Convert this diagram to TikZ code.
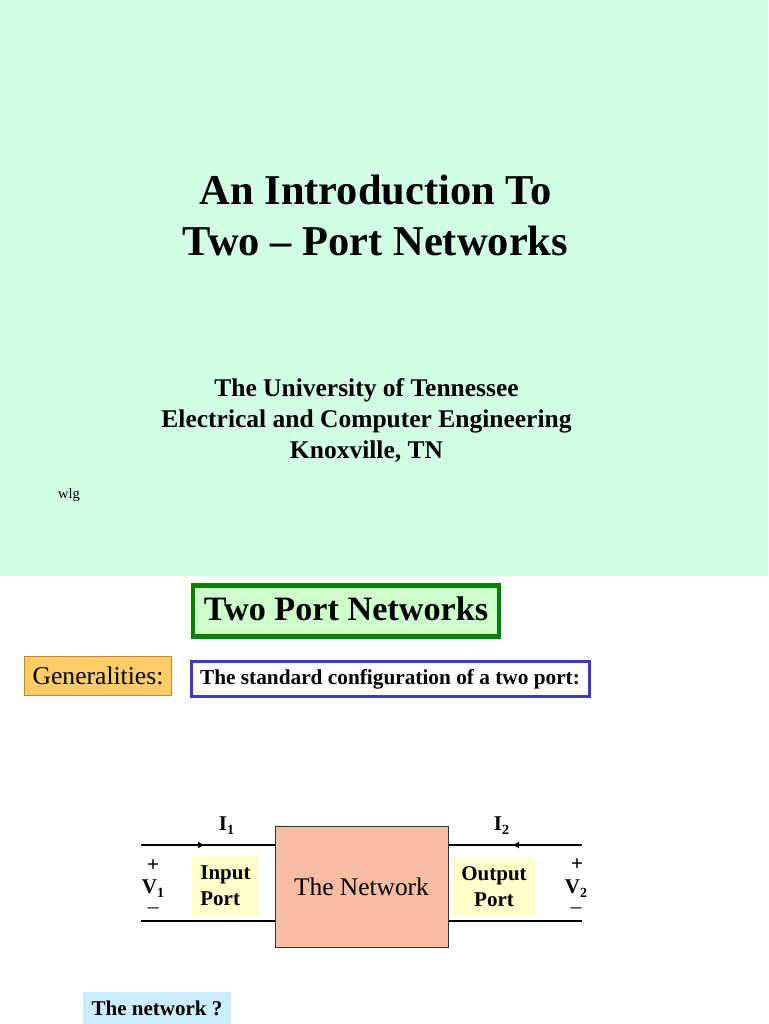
\documentclass[tikz,border=0pt]{standalone}
\usepackage{fontspec}
\setmainfont{Liberation Serif}
\usetikzlibrary{arrows.meta}
\definecolor{mintbg}{HTML}{D2FEE6}
\definecolor{titlefill}{HTML}{CCFFCC}
\definecolor{titleline}{HTML}{058005}
\definecolor{genfill}{HTML}{FFCC66}
\definecolor{genline}{HTML}{B98A40}
\definecolor{blueline}{HTML}{3B3BB8}
\definecolor{netfill}{HTML}{F6BDA3}
\definecolor{portfill}{HTML}{FFFFCC}
\definecolor{askfill}{HTML}{CCECFF}
\newcommand{\lowsub}[1]{\raisebox{-4pt}{\fontsize{14}{14}\selectfont #1}}
\tikzset{
  txt/.style={inner sep=0pt,align=center,text=black},
  bigt/.style={txt,font=\fontsize{42.5}{51}\selectfont\bfseries},
  subt/.style={txt,font=\fontsize{25.5}{31}\selectfont\bfseries},
  lab/.style={txt,font=\fontsize{21}{25}\selectfont\bfseries},
  wire/.style={line width=2pt,draw=black,line cap=butt},
  cur/.style={wire,-{Latex[length=7pt,width=7pt]}},
  portbox/.style={fill=portfill,inner sep=0pt,lab,minimum height=60pt},
}
\begin{document}
\begin{tikzpicture}[x=1pt,y=-1pt]
\useasboundingbox (0,0) rectangle (768,1024);
\fill[white] (0,0) rectangle (768,1024);
\fill[mintbg] (0,0) rectangle (768,576);
\node[bigt] (title) at (375.5,215.5) {An Introduction To\\Two -- Port Networks};
\node[subt] (uni) at (366.5,420.5) {The University of Tennessee\\Electrical and Computer Engineering\\Knoxville, TN};
\node[txt,font=\fontsize{14.5}{16}\selectfont] (wlg) at (69,495.5) {wlg};
\node[draw=titleline,line width=4.5pt,fill=titlefill,minimum width=306pt,minimum height=51pt,inner sep=0pt,font=\fontsize{34.2}{38}\selectfont\bfseries] (head) at (346,611) {\raisebox{-9.5pt}[0pt][0pt]{Two Port Networks}};
\node[draw=genline,line width=.9pt,fill=genfill,minimum width=147pt,minimum height=39pt,inner sep=0pt,font=\fontsize{25.6}{29}\selectfont] (gen) at (98,676) {Generalities:};
\node[draw=blueline,line width=3pt,fill=white,minimum width=398pt,minimum height=35pt,inner sep=0pt,font=\fontsize{21.3}{25}\selectfont\bfseries] (std) at (390,678.5) {\raisebox{-6pt}[0pt][0pt]{The standard configuration of a two port:}};
\node[draw=black!80,line width=1pt,fill=netfill,minimum width=173pt,minimum height=121pt,inner sep=0pt,font=\fontsize{25.4}{29}\selectfont] (net) at (361.5,886.5) {The Network};
\coordinate (ta) at (141,845);
\coordinate (tm) at (205,845);
\coordinate (ba) at (141,921);
\coordinate (tb) at (582,845);
\coordinate (tn) at (512,845);
\coordinate (bb) at (582,921);
\draw[wire] (ta) -- (net.west |- ta);
\draw[cur] (ta) -- (tm);
\draw[wire] (ba) -- (net.west |- ba);
\draw[wire] (tb) -- (net.east |- tb);
\draw[cur] (tb) -- (tn);
\draw[wire] (bb) -- (net.east |- bb);
\node[portbox,minimum width=67pt,minimum height=60pt,align=left] (inp) at (225.5,885.5) {Input\\[1pt]Port};
\node[portbox,minimum width=82pt,minimum height=58pt] (outp) at (494,887) {Output\\[1pt]Port};
\node[lab] (i1) at (226.5,826) {I\lowsub{1}};
\node[lab] (i2) at (501.5,826) {I\lowsub{2}};
\node[lab] (p1) at (153,866) {+};
\node[lab] (v1) at (153,889) {V\lowsub{1}};
\node[txt,font=\fontsize{22}{24}\selectfont] (m1) at (153,911) {--};
\node[lab] (p2) at (577,865) {+};
\node[lab] (v2) at (576,889) {V\lowsub{2}};
\node[txt,font=\fontsize{22}{24}\selectfont] (m2) at (576,911) {--};
\node[fill=askfill,minimum width=148pt,minimum height=32pt,inner sep=0pt,font=\fontsize{21}{25}\selectfont\bfseries] (ask) at (157,1008) {The network ?};
\end{tikzpicture}
\end{document}
